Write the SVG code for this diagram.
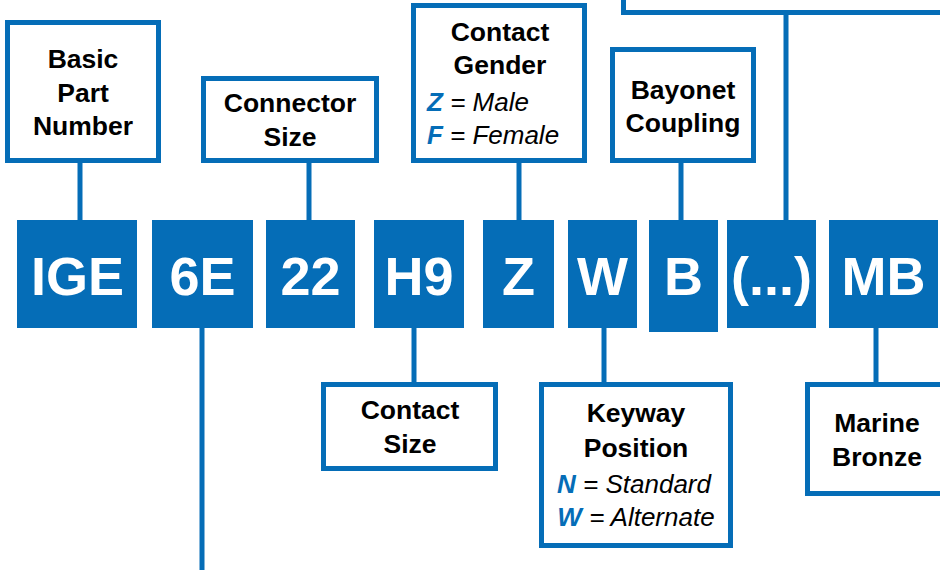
<svg xmlns="http://www.w3.org/2000/svg" width="940" height="570" viewBox="0 0 940 570">
<style>
  .tile { fill: #056DB7; }
  .tt { font-family: "Liberation Sans", Arial, sans-serif; font-weight: bold; font-size: 54px; fill: #ffffff; text-anchor: middle; }
  .box { fill: #ffffff; stroke: #056DB7; stroke-width: 5; }
  .lbl { font-family: "Liberation Sans", Arial, sans-serif; font-weight: bold; font-size: 26.5px; fill: #000000; text-anchor: middle; }
  .opt { font-family: "Liberation Sans", Arial, sans-serif; font-style: italic; font-size: 26px; fill: #000000; text-anchor: middle; }
  .key { font-weight: bold; fill: #056DB7; }
  .conn line { stroke: #056DB7; stroke-width: 5; }
</style>
<rect width="940" height="570" fill="#ffffff"/>
<g class="conn" id="connectors">
  <line x1="80" y1="160" x2="80" y2="221"/>
  <line x1="309" y1="160" x2="309" y2="221"/>
  <line x1="519" y1="160" x2="519" y2="221"/>
  <line x1="681" y1="160" x2="681" y2="221"/>
  <line x1="786" y1="12" x2="786" y2="221"/>
  <line x1="414" y1="327" x2="414" y2="385"/>
  <line x1="604" y1="327" x2="604" y2="385"/>
  <line x1="876" y1="327" x2="876" y2="385"/>
  <line x1="202" y1="327" x2="202" y2="570"/>
</g>
<g id="tile-IGE"><rect class="tile" x="17" y="220" width="120" height="108"/><text class="tt" x="77.5" y="295">IGE</text></g>
<g id="tile-6E"><rect class="tile" x="152" y="220" width="101" height="108"/><text class="tt" x="202.5" y="295">6E</text></g>
<g id="tile-22"><rect class="tile" x="266" y="220" width="89" height="108"/><text class="tt" x="310.5" y="295">22</text></g>
<g id="tile-H9"><rect class="tile" x="374" y="220" width="90" height="108"/><text class="tt" x="419" y="295">H9</text></g>
<g id="tile-Z"><rect class="tile" x="483" y="220" width="71" height="108"/><text class="tt" x="518.5" y="295">Z</text></g>
<g id="tile-W"><rect class="tile" x="568" y="220" width="69" height="108"/><text class="tt" x="602.5" y="295">W</text></g>
<g id="tile-B"><rect class="tile" x="649" y="220" width="69" height="112"/><text class="tt" x="683.5" y="295">B</text></g>
<g id="tile-etc"><rect class="tile" x="727" y="220" width="89" height="108"/><text class="tt" x="771.5" y="295">(...)</text></g>
<g id="tile-MB"><rect class="tile" x="829" y="220" width="109" height="108"/><text class="tt" x="883.5" y="295">MB</text></g>

<g id="box-basic"><rect class="box" x="7.5" y="22.5" width="151" height="138"/>
  <text class="lbl" x="83" y="68">Basic</text><text class="lbl" x="83" y="102">Part</text><text class="lbl" x="83" y="135">Number</text></g>
<g id="box-connsize"><rect class="box" x="203.5" y="78.5" width="173" height="82"/>
  <text class="lbl" x="290" y="112">Connector</text><text class="lbl" x="290" y="146">Size</text></g>
<g id="box-gender"><rect class="box" x="413.5" y="5.5" width="171" height="155"/>
  <text class="lbl" x="500" y="41">Contact</text><text class="lbl" x="500" y="74">Gender</text>
  <text class="opt" x="478" y="111"><tspan class="key">Z</tspan> = Male</text>
  <text class="opt" x="493" y="144"><tspan class="key">F</tspan> = Female</text></g>
<g id="box-bayonet"><rect class="box" x="612.5" y="49.5" width="141" height="111"/>
  <text class="lbl" x="683" y="99">Bayonet</text><text class="lbl" x="683" y="132">Coupling</text></g>
<g id="box-topright"><rect class="box" x="623.5" y="-25" width="340" height="37.5"/></g>
<g id="box-contactsize"><rect class="box" x="323.5" y="384.5" width="172" height="84"/>
  <text class="lbl" x="410" y="419">Contact</text><text class="lbl" x="410" y="453">Size</text></g>
<g id="box-keyway"><rect class="box" x="541.5" y="384.5" width="189" height="161"/>
  <text class="lbl" x="636" y="422">Keyway</text><text class="lbl" x="636" y="457">Position</text>
  <text class="opt" x="634" y="493"><tspan class="key">N</tspan> = Standard</text>
  <text class="opt" x="636" y="526"><tspan class="key">W</tspan> = Alternate</text></g>
<g id="box-marine"><rect class="box" x="807.5" y="384.5" width="160" height="109"/>
  <text class="lbl" x="877" y="432">Marine</text><text class="lbl" x="877" y="466">Bronze</text></g>
</svg>
